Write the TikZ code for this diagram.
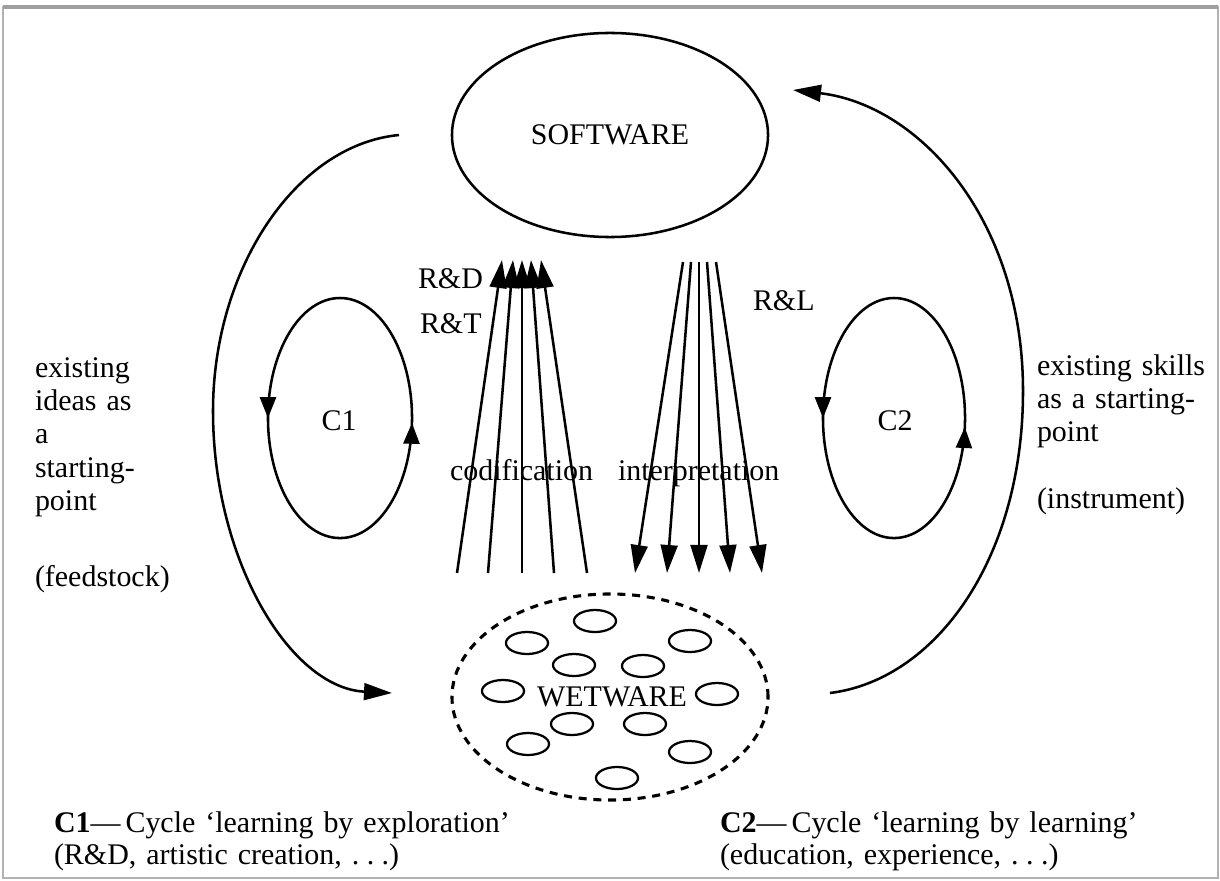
\documentclass[tikz,border=0pt]{standalone}
\usepackage{fontspec}
\setmainfont{Liberation Serif}
\usetikzlibrary{arrows.meta,shapes.geometric,decorations.markings}

\newcommand{\spaceddots}{.\kern0.25em.\kern0.25em.}

\begin{document}
\begin{tikzpicture}[x=0.025cm,y=-0.025cm,
  every node/.style={font=\fontsize{21.3}{23.8}\selectfont, inner sep=0pt, outer sep=0pt},
  line/.style={line width=1.8pt},
  headtip/.style={-{Triangle[length=0.7cm,width=0.42cm]}},
  loophead/.tip={Triangle[length=0.52cm,width=0.4cm]},
  cell/.style={draw, ellipse, line width=1.6pt, minimum width=1.05cm, minimum height=0.55cm},
  blob/.style={draw, ellipse, line width=2.2pt, dash pattern=on 5.7pt off 4.8pt},
  lbl/.style={anchor=base west},
  block/.style={anchor=base west, align=left, text width=5cm},
  loop/.style={line, postaction={decorate}, decoration={markings,
      mark=at position 0.25 with {\arrow{loophead}},
      mark=at position #1 with {\arrow{loophead}}}}
]
\useasboundingbox (0,0) rectangle (1220,880);

% frame
\draw[gray!60, line width=1.2pt] (3,7) rectangle (1218,878);
\draw[gray!75, line width=2.4pt] (3,7) -- (1218,7);

% main nodes
\node[draw, ellipse, line width=1.8pt, minimum width=7.9cm, minimum height=5.1cm] (sw) at (610,135) {SOFTWARE};
\node[blob, minimum width=7.9cm, minimum height=5.15cm] (ww) at (610,697) {};

% cells inside the wetware
\foreach \n/\x/\y in {1/595/621, 2/527/643, 3/690/641, 4/574/665, 5/643/666,
                      6/503/691, 7/717/694, 8/572/724, 9/645/724, 10/528/744,
                      11/690/752, 12/617/778}
  \node[cell] (cell\n) at (\x,\y) {};
\node (wwl) at (612,697) {WETWARE};

% codification: wetware -> software
\foreach \n/\xb/\xt in {1/457/502, 2/488/513, 3/522/522, 4/554/531, 5/587/541} {
  \coordinate (cb\n) at (\xb,573);
  \coordinate (ct\n) at (\xt,260);
  \draw[line, headtip] (cb\n) -- (ct\n);
}
% interpretation: software -> wetware
\foreach \n/\xt/\xb in {1/683/635, 2/691/667, 3/699/699, 4/707/730, 5/716/762} {
  \coordinate (it\n) at (\xt,262);
  \coordinate (ib\n) at (\xb,573);
  \draw[line, headtip] (it\n) -- (ib\n);
}

\node[lbl] (rd) at (418,288) {R\&D};
\node[lbl] (rt) at (420,333) {R\&T};
\node[lbl] (rl) at (753,310) {R\&L};
\node[lbl] (cod) at (450,480) {codification};
\node[lbl] (int) at (618,480) {interpretation};

% inner cycles
\node (c1) at (339,421) {C1};
\node (c2) at (895,421) {C2};
\coordinate (c1top) at (340,298);
\coordinate (c2top) at (894,298);
\draw[loop=0.742] (c1top) arc[start angle=90, end angle=450, x radius=1.8cm, y radius=3cm];
\draw[loop=0.735] (c2top) arc[start angle=90, end angle=450, x radius=1.775cm, y radius=3cm];

% outer cycles
\coordinate (la) at (399,135);
\coordinate (lb) at (392,693);
\draw[line, headtip] (la) .. controls (295,145) and (213,270) .. (213,411)
                          .. controls (213,560) and (290,688) .. (lb);
\coordinate (ra) at (830,693);
\coordinate (rz) at (793,90);
\draw[line, headtip] (ra) .. controls (935,680) and (1023,560) .. (1023,391)
                          .. controls (1023,220) and (920,105) .. (rz);

% side texts
\node[block] (lefttext) at (35,377) {existing\\ideas as\\a\\starting-\\point\\[1.05cm](feedstock)};
\node[block] (righttext) at (1037,375) {existing skills\\as a starting-\\point\\[0.82cm](instrument)};

% captions
\node[block, text width=12cm, font=\fontsize{21.3}{22.8}\selectfont] (cap1) at (54,832)
  {\textbf{C1}---\,Cycle `learning by exploration'\\(R\&D, artistic creation, \spaceddots)};
\node[block, text width=12cm, font=\fontsize{21.3}{22.8}\selectfont] (cap2) at (720,832)
  {\textbf{C2}---\,Cycle `learning by learning'\\(education, experience, \spaceddots)};
\end{tikzpicture}
\end{document}
